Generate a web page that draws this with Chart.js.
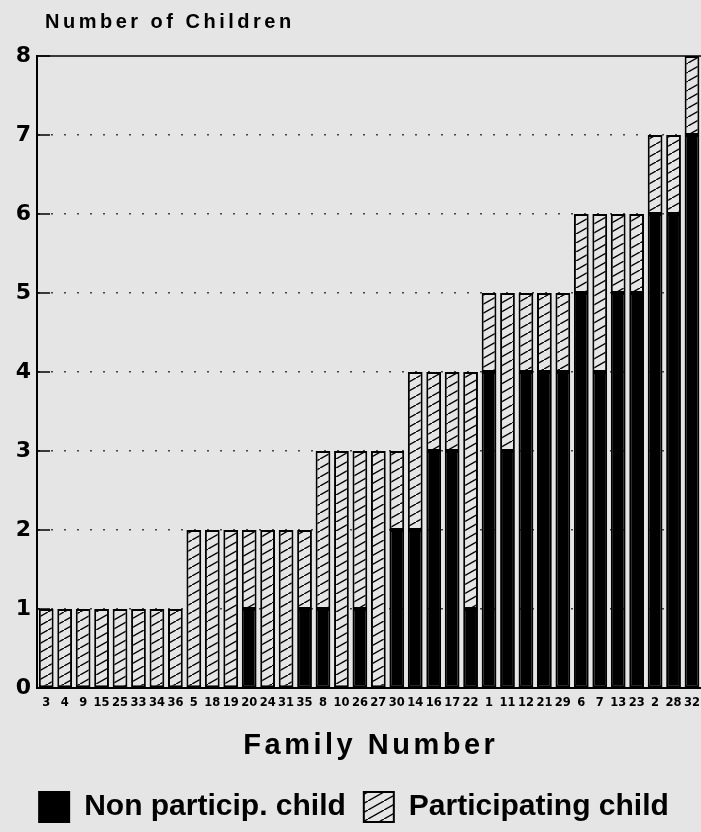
<!DOCTYPE html>
<html>
<head>
<meta charset="utf-8">
<title>Number of Children per Family</title>
<script src="https://cdn.jsdelivr.net/npm/chart.js@4.4.0/dist/chart.umd.min.js"></script>
<style>
  html, body { margin: 0; padding: 0; background: #e5e5e5; overflow: hidden; }
  #wrap { width: 701px; height: 832px; overflow: hidden; }
  #box { width: 708px; height: 832px; }
</style>
</head>
<body>
<div id="wrap"><div id="box"><canvas id="myChart"></canvas></div></div>
<script>
// Data
const families = ['3', '4', '9', '15', '25', '33', '34', '36', '5', '18', '19', '20', '24', '31', '35',
    '8', '10', '26', '27', '30', '14', '16', '17', '22', '1', '11', '12', '21', '29',
    '6', '7', '13', '23', '2', '28', '32'];
const nonParticipating = [0, 0, 0, 0, 0, 0, 0, 0, 0, 0, 0, 1, 0, 0, 1,
    1, 0, 1, 0, 2, 2, 3, 3, 1, 4, 3, 4, 4, 4,
    5, 4, 5, 5, 6, 6, 7];
const participating = [1, 1, 1, 1, 1, 1, 1, 1, 2, 2, 2, 1, 2, 2, 1,
    2, 3, 2, 3, 1, 2, 1, 1, 3, 1, 2, 1, 1, 1,
    1, 2, 1, 1, 1, 1, 1];
const yTicks = [0, 1, 2, 3, 4, 5, 6, 7, 8];

const FONT = "'Liberation Sans', Arial, sans-serif";
const WIDE = "'DejaVu Sans', sans-serif";
const BG = '#e5e5e5';

// Hatch pattern for the participating children
const makeHatch = () => {
    const c = document.createElement('canvas');
    c.width = 16;
    c.height = 9;
    const g = c.getContext('2d');
    g.fillStyle = BG;
    g.fillRect(0, 0, 16, 9);
    g.strokeStyle = '#000';
    g.lineWidth = 1.4;
    g.beginPath();
    g.moveTo(-2, 9 + 9 / 8);
    g.lineTo(18, -9 / 8);
    g.stroke();
    return g.createPattern(c, 'repeat');
}
const hatch = makeHatch();

const frame = {
    id: 'frame',
    beforeDatasetsDraw(chart) {
        const { ctx, chartArea } = chart;
        const y = chart.scales.y;
        ctx.save();
        ctx.strokeStyle = '#000';
        ctx.lineWidth = 1.5;
        yTicks.forEach(v => {
            const py = y.getPixelForValue(v);
            ctx.beginPath();
            ctx.moveTo(chartArea.left, py);
            ctx.lineTo(chartArea.left + 13, py);
            ctx.stroke();
        });
        ctx.beginPath();
        ctx.moveTo(chartArea.left, chartArea.top);
        ctx.lineTo(chartArea.right, chartArea.top);
        ctx.stroke();
        ctx.restore();
    },
    afterDraw(chart) {
        const { ctx, chartArea } = chart;
        ctx.save();
        ctx.fillStyle = '#000';
        ctx.textBaseline = 'alphabetic';
        ctx.textAlign = 'left';

        // y axis title
        ctx.font = 'bold 20px ' + FONT;
        ctx.letterSpacing = '3.5px';
        ctx.fillText('Number of Children', 45, 28);

        // x axis title
        ctx.font = 'bold 29px ' + FONT;
        ctx.letterSpacing = '3.5px';
        const t = 'Family Number';
        const w = ctx.measureText(t).width - 3.5;
        ctx.fillText(t, (chartArea.left + chartArea.right) / 2 - w / 2, chartArea.bottom + 66);
        ctx.restore();
    }
};

const ctx = document.getElementById('myChart').getContext('2d');

const data = {
    labels: families,
    datasets: [{
        label: 'Non particip. child',
        data: nonParticipating,
        backgroundColor: '#000',
        borderColor: '#000',
        borderWidth: 2,
        borderSkipped: false,
        barPercentage: 0.8,
        categoryPercentage: 1,
    }, {
        label: 'Participating child',
        data: participating,
        backgroundColor: hatch,
        borderColor: '#000',
        borderWidth: 2,
        borderSkipped: false,
        barPercentage: 0.8,
        categoryPercentage: 1,
    }],
};

const options = {
    responsive: true,
    maintainAspectRatio: false,
    animation: false,
    layout: { padding: { top: 56, left: 0, right: 0, bottom: 0 } },
    plugins: {
        tooltip: { enabled: false },
        legend: {
            position: 'bottom',
            labels: {
                color: '#000',
                font: { family: FONT, size: 30, weight: 'bold' },
                boxWidth: 30,
                boxHeight: 30,
                padding: 18,
            },
        },
    },
    scales: {
        x: {
            stacked: true,
            afterFit: s => { s.height = 86; },
            grid: { display: false, drawTicks: false },
            border: { color: '#000', width: 2 },
            ticks: {
                color: '#000',
                font: { family: WIDE, size: 11.5, weight: 'bold' },
                autoSkip: false,
                maxRotation: 0,
                padding: 8,
            },
        },
        y: {
            stacked: true,
            min: 0,
            max: 8,
            afterFit: s => { s.width = 37; },
            ticks: {
                stepSize: 1,
                color: '#000',
                font: { family: WIDE, size: 22, weight: 'bold' },
                padding: 6,
            },
            grid: {
                color: c => (c.tick.value === 0 || c.tick.value === 8) ? 'rgba(0,0,0,0)' : '#444',
                lineWidth: 1.5,
                drawTicks: false,
            },
            border: { display: true, color: '#000', width: 2, dash: [2, 11] },
        },
    },
};

const myChart = new Chart(ctx, {
    type: 'bar',
    data: data,
    options: options,
    plugins: [frame],
});
</script>
</body>
</html>
